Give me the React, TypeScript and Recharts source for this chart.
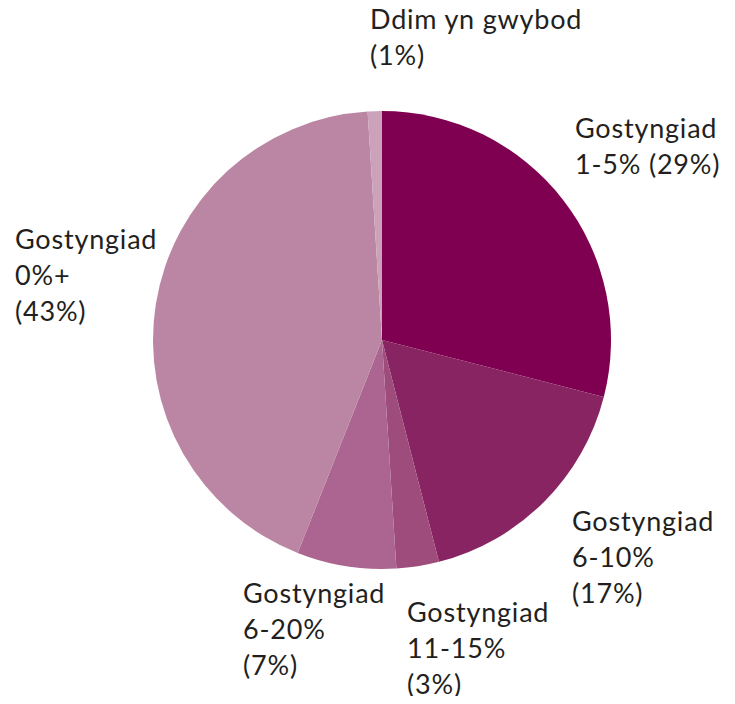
import React from "react";
import { PieChart, Pie, Cell } from "recharts";

const categories = [
  "Gostyngiad 1-5%",
  "Gostyngiad 6-10%",
  "Gostyngiad 11-15%",
  "Gostyngiad 6-20%",
  "Gostyngiad 0%+",
  "Ddim yn gwybod",
];
const values = [29, 17, 3, 7, 43, 1];
const labelLines = [
  ["Gostyngiad", "1-5% (29%)"],
  ["Gostyngiad", "6-10%", "(17%)"],
  ["Gostyngiad", "11-15%", "(3%)"],
  ["Gostyngiad", "6-20%", "(7%)"],
  ["Gostyngiad", "0%+", "(43%)"],
  ["Ddim yn gwybod", "(1%)"],
];
const colors = ["#7F0050", "#872461", "#9E4C7C", "#AC6590", "#BB86A3", "#CCA2BA"];

// label anchor offsets from pie centre (first baseline)
const labelOffsets: [number, number][] = [
  [193, -202],
  [190, 191],
  [25, 282],
  [-139, 263],
  [-367, -91],
  [-12, -311],
];

const data = categories.map((name, i) => ({ name, value: values[i] }));

const FONT = "Lato, 'Open Sans', sans-serif";
const LINE_H = 36;

const renderLabel = (props: any) => {
  const { cx, cy, index } = props;
  const [dx, dy] = labelOffsets[index];
  const lines = labelLines[index];
  return (
    <text
      key={`lbl-${index}`}
      x={cx + dx}
      y={cy + dy}
      fill="#231F20"
      fontFamily={FONT}
      fontSize={27}
      letterSpacing={0.8}
      textAnchor="start"
    >
      {lines.map((l, j) => (
        <tspan key={j} x={cx + dx} y={cy + dy + j * LINE_H}>
          {l}
        </tspan>
      ))}
    </text>
  );
};

export default function App() {
  return (
    <div style={{ margin: -8, width: 735, height: 704 }}>
      <PieChart width={735} height={704} margin={{ top: 0, right: 0, bottom: 0, left: 0 }}>
        <Pie
          data={data}
          dataKey="value"
          nameKey="name"
          cx={382}
          cy={340}
          outerRadius={229}
          startAngle={90}
          endAngle={-270}
          stroke="none"
          label={renderLabel}
          labelLine={false}
          isAnimationActive={false}
        >
          {data.map((d, i) => (
            <Cell key={d.name} fill={colors[i]} />
          ))}
        </Pie>
      </PieChart>
    </div>
  );
}
